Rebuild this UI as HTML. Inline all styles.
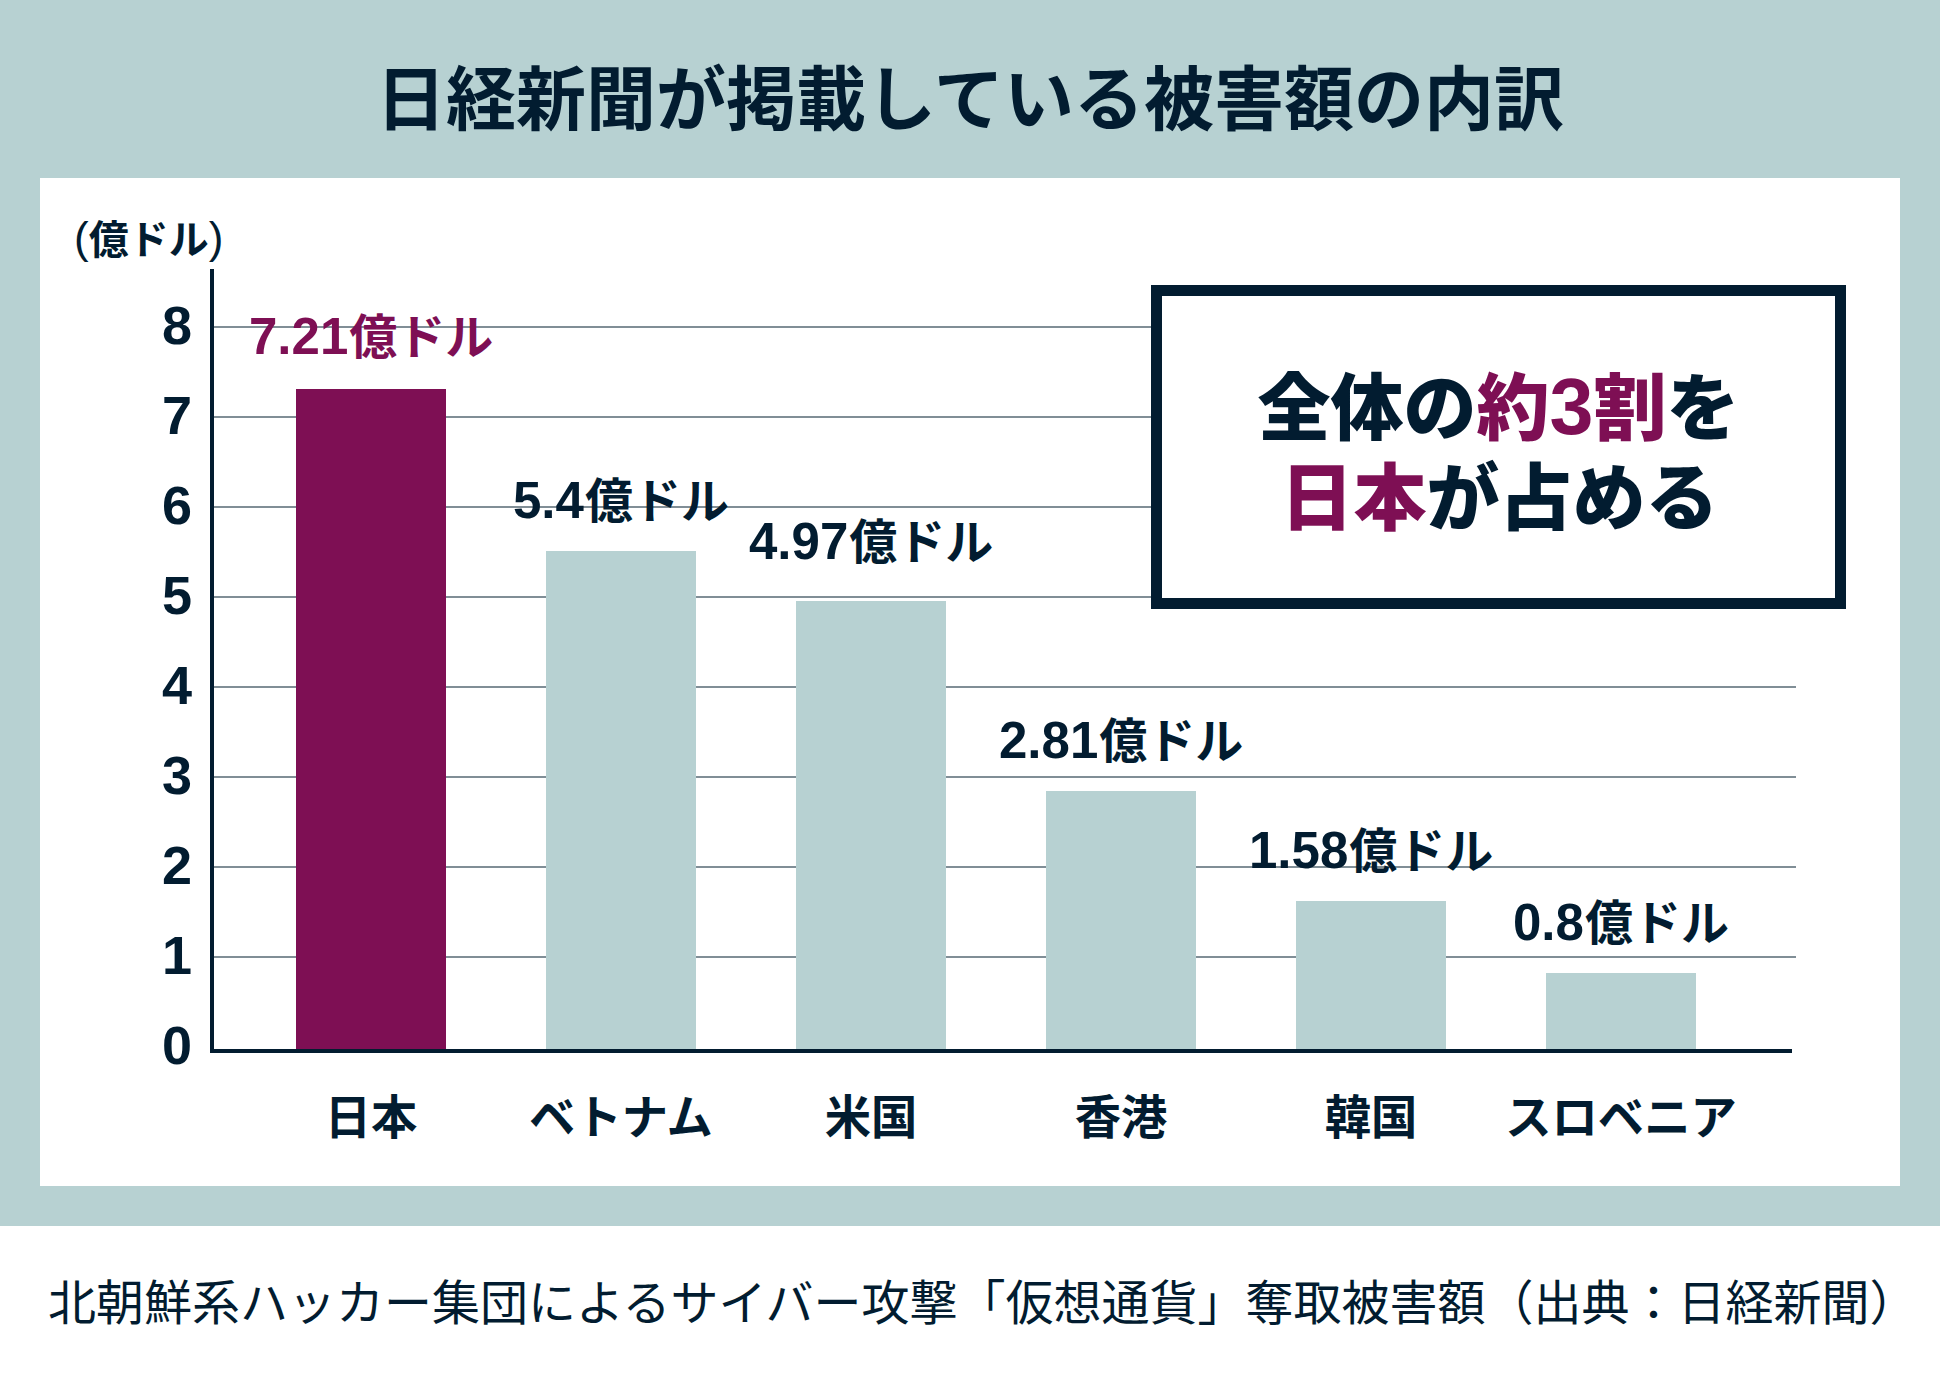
<!DOCTYPE html>
<html lang="ja">
<head>
<meta charset="utf-8">
<title>日経新聞が掲載している被害額の内訳</title>
<style>
  html, body { margin: 0; padding: 0; }
  body {
    width: 1940px; height: 1376px; position: relative; overflow: hidden;
    background: #ffffff; color: #021c30;
    font-family: "Liberation Sans", "Noto Sans CJK JP", sans-serif;
  }
  .abs { position: absolute; white-space: nowrap; line-height: 1; }
  .bg { left: 0; top: 0; width: 1940px; height: 1226px; background: #b7d1d2; }
  .panel { left: 40px; top: 178px; width: 1860px; height: 1008px; background: #ffffff; }
  .title { left: 0; width: 1940px; top: 66px; text-align: center; font-size: 70px; font-weight: 700; }
  .unit { left: 74px; top: 220px; font-size: 40px; font-weight: 700; }
  .pp { font-weight: 400; font-size: 44px; line-height: 0; position: relative; top: -1px; }
  .grid { left: 214px; width: 1582px; height: 2px; background: #808e96; }
  .yaxis { left: 210px; top: 269px; width: 4px; height: 784px; background: #021c30; }
  .xaxis { left: 210px; top: 1049px; width: 1582px; height: 4px; background: #021c30; }
  .tick { left: 100px; width: 92px; text-align: right; font-size: 54px; font-weight: 700; }
  .bar { width: 150px; background: #b7d1d2; }
  .bar.jp { background: #7e0f54; }
  .val { font-size: 48px; font-weight: 700; }
  .val b { font-size: 51px; font-weight: 700; line-height: 0; margin-right: 1px; }
  .val.jp { color: #7e0f54; }
  .cat { font-size: 46.3px; font-weight: 700; text-align: center; width: 400px; top: 1095px; }
  .callout { left: 1151px; top: 285px; width: 673px; height: 302px; border: 11px solid #021c30; background: #ffffff; }
  .ctext { left: 1151px; width: 695px; text-align: center; font-size: 73px; font-weight: 900; }
  .hl { color: #7e0f54; }
  .n3 { font-size: 79px; line-height: 0; }
  .caption { left: 48px; top: 1280px; font-size: 48px; font-weight: 400; }
</style>
</head>
<body>
<div class="abs bg"></div>
<div class="abs panel"></div>
<div class="abs title">日経新聞が掲載している被害額の内訳</div>

<div class="abs unit"><span class="pp">(</span>億ドル<span class="pp">)</span></div>

<div class="abs grid" style="top:326px"></div>
<div class="abs grid" style="top:416px"></div>
<div class="abs grid" style="top:506px"></div>
<div class="abs grid" style="top:596px"></div>
<div class="abs grid" style="top:686px"></div>
<div class="abs grid" style="top:776px"></div>
<div class="abs grid" style="top:866px"></div>
<div class="abs grid" style="top:956px"></div>

<div class="abs tick" style="top:298px">8</div>
<div class="abs tick" style="top:388px">7</div>
<div class="abs tick" style="top:478px">6</div>
<div class="abs tick" style="top:568px">5</div>
<div class="abs tick" style="top:658px">4</div>
<div class="abs tick" style="top:748px">3</div>
<div class="abs tick" style="top:838px">2</div>
<div class="abs tick" style="top:928px">1</div>
<div class="abs tick" style="top:1018px">0</div>

<div class="abs bar jp" style="left:296px; top:389px; height:660px"></div>
<div class="abs bar" style="left:546px; top:551px; height:498px"></div>
<div class="abs bar" style="left:796px; top:601px; height:448px"></div>
<div class="abs bar" style="left:1046px; top:791px; height:258px"></div>
<div class="abs bar" style="left:1296px; top:901px; height:148px"></div>
<div class="abs bar" style="left:1546px; top:973px; height:76px"></div>

<div class="abs yaxis"></div>
<div class="abs xaxis"></div>

<div class="abs val jp" style="left:249px; top:314px"><b>7.21</b>億ドル</div>
<div class="abs val" style="left:513px; top:478px"><b>5.4</b>億ドル</div>
<div class="abs val" style="left:749px; top:519px"><b>4.97</b>億ドル</div>
<div class="abs val" style="left:999px; top:718px"><b>2.81</b>億ドル</div>
<div class="abs val" style="left:1249px; top:828px"><b>1.58</b>億ドル</div>
<div class="abs val" style="left:1513px; top:900px"><b>0.8</b>億ドル</div>

<div class="abs cat" style="left:171px">日本</div>
<div class="abs cat" style="left:421px">ベトナム</div>
<div class="abs cat" style="left:671px">米国</div>
<div class="abs cat" style="left:921px">香港</div>
<div class="abs cat" style="left:1171px">韓国</div>
<div class="abs cat" style="left:1421px">スロベニア</div>

<div class="abs callout"></div>
<div class="abs ctext" style="top:372px">全体の<span class="hl">約<span class="n3">3</span>割</span>を</div>
<div class="abs ctext" style="top:462px; left:1152px"><span class="hl">日本</span>が占める</div>

<div class="abs caption">北朝鮮系ハッカー集団によるサイバー攻撃「仮想通貨」奪取被害額（出典：日経新聞）</div>
</body>
</html>
